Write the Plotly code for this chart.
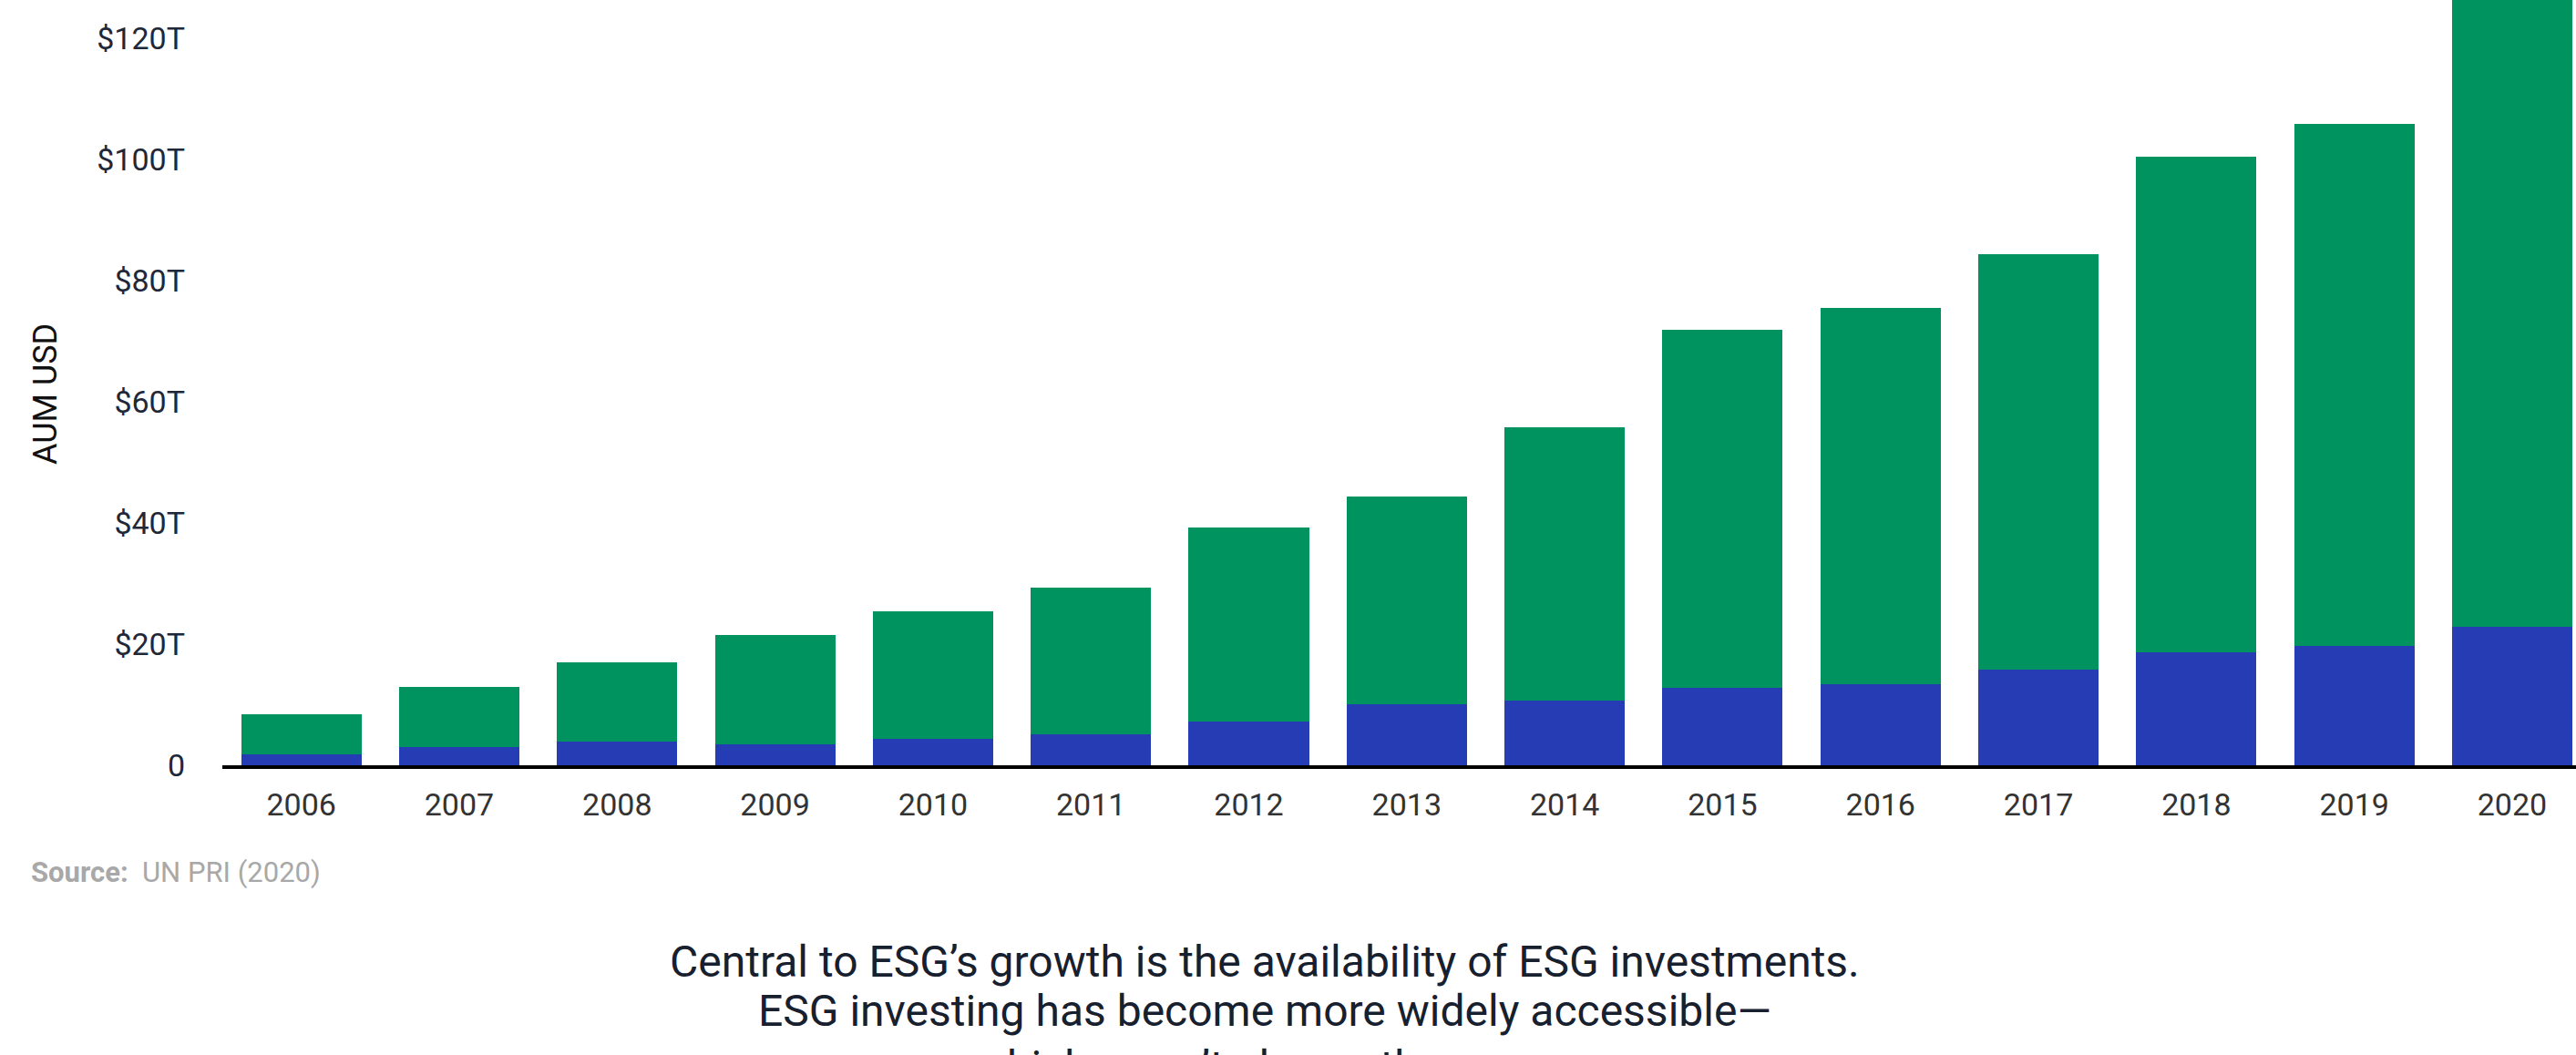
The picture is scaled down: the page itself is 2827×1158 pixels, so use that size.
import plotly.graph_objects as go

# PRI signatory assets under management, US$ trillions
years = ["2006", "2007", "2008", "2009", "2010", "2011", "2012", "2013",
         "2014", "2015", "2016", "2017", "2018", "2019", "2020"]
asset_owner_aum = [1.8, 3.0, 3.9, 3.4, 4.3, 5.1, 7.2, 10.0, 10.7, 12.8,
                   13.4, 15.8, 18.6, 19.7, 22.9]
total_aum = [6.6, 10.0, 13.1, 18.1, 21.1, 24.2, 32.1, 34.3, 45.1, 59.0,
             62.1, 68.5, 81.8, 86.1, 104.0]

y_tick_vals = [0, 20, 40, 60, 80, 100, 120]
y_tick_text = ["0", "$20T", "$40T", "$60T", "$80T", "$100T", "$120T"]

caption_lines = [
    "Central to ESG’s growth is the availability of ESG investments.",
    "ESG investing has become more widely accessible—",
    "which wasn’t always the case.",
]

BLUE = "#263cb4"
GREEN = "#00935f"
FONT = "Roboto"

W, H = 2827, 1158
LEFT, BOTTOM_MARGIN = 244, 318
plot_h = H - BOTTOM_MARGIN
plot_w = W - LEFT


def px_x(x):
    return (x - LEFT) / plot_w


def px_y(y):
    return (plot_h - y) / plot_h


fig = go.Figure()
fig.add_trace(go.Bar(x=years, y=asset_owner_aum, marker=dict(color=BLUE, line=dict(width=0)),
                     name="Asset owner AUM"))
fig.add_trace(go.Bar(x=years, y=total_aum, marker=dict(color=GREEN, line=dict(width=0)),
                     name="Total AUM"))

annotations = [
    dict(text="AUM USD", x=px_x(50), y=px_y(433), xref="paper", yref="paper",
         textangle=-90, showarrow=False, xanchor="center", yanchor="middle",
         font=dict(family=FONT, size=36, color="#111111")),
    dict(text="<b>Source:</b>  UN PRI (2020)", x=px_x(32), y=px_y(957),
         xref="paper", yref="paper", showarrow=False, xanchor="left", yanchor="middle",
         font=dict(family=FONT, size=31, color="#a8a8a8")),
]
caption_y = [1055, 1109, 1170]
for line, cy in zip(caption_lines, caption_y):
    annotations.append(dict(
        text=line, x=px_x(1388), y=px_y(cy), xref="paper", yref="paper",
        showarrow=False, xanchor="center", yanchor="middle",
        font=dict(family=FONT, size=48, color="#17202e")))

fig.update_layout(
    width=W, height=H,
    barmode="stack", bargap=0.238,
    showlegend=False,
    plot_bgcolor="white", paper_bgcolor="white",
    margin=dict(l=LEFT, r=0, t=0, b=BOTTOM_MARGIN, pad=0),
    xaxis=dict(
        type="category", range=[-0.5, 14.404],
        showline=True, linecolor="black", linewidth=4,
        showgrid=False, ticks="", ticklabelstandoff=10,
        tickfont=dict(family=FONT, size=34, color="#333333"),
    ),
    yaxis=dict(
        range=[0, 126.3], tickvals=y_tick_vals, ticktext=y_tick_text,
        showline=False, showgrid=False, zeroline=False, ticks="",
        ticklabelstandoff=40,
        tickfont=dict(family=FONT, size=34, color="#1e2839"),
    ),
    annotations=annotations,
)

fig.write_html("out.html")
